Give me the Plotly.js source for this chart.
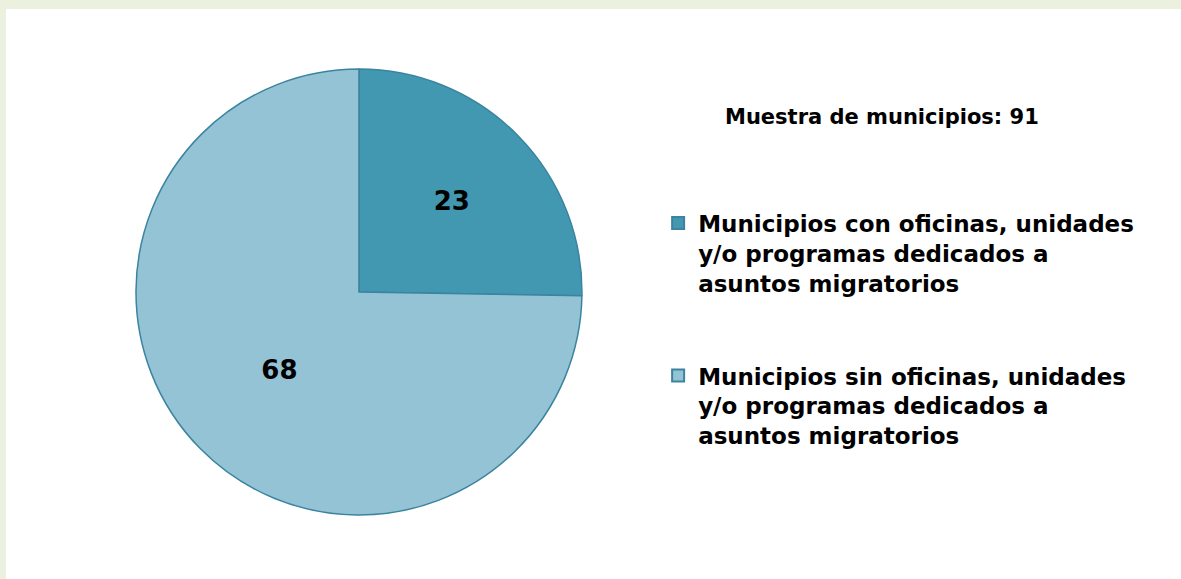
<!DOCTYPE html>
<html>
<head>
<meta charset="utf-8">
<script src="https://cdn.plot.ly/plotly-3.0.1.min.js"></script>
<style>
html,body{margin:0;padding:0;background:#EBF1DE;width:1181px;height:579px;overflow:hidden;}
#chart{position:absolute;left:6px;top:9px;width:1175px;height:570px;background:#fff;}
</style>
</head>
<body>
<div id="chart"></div>
<script>
const categories = [
  "Municipios con oficinas, unidades<br>y/o programas dedicados a<br>asuntos migratorios<br>\u00a0<br>\u00a0",
  "Municipios sin oficinas, unidades<br>y/o programas dedicados a<br>asuntos migratorios"
];
const values = [23, 68];
const sampleNote = "Muestra de municipios: 91";
const colors = ["#4398B1", "#94C3D5"];
const FONT = "DejaVu Sans, sans-serif";

const data = [{
  type: "pie",
  labels: categories,
  values: values,
  sort: false,
  direction: "clockwise",
  rotation: 0,
  marker: {colors: colors, line: {color: "#3A84A0", width: 1.5}},
  texttemplate: "%{value}",
  textposition: "inside",
  insidetextorientation: "horizontal",
  textfont: {family: FONT, size: 26, color: "#000", weight: "bold"},
  hoverinfo: "label+value",
  domain: {x: [0.1106, 0.4902], y: [0.1123, 0.8947]}
}];

const layout = {
  width: 1175, height: 570,
  margin: {l: 0, r: 0, t: 0, b: 0},
  paper_bgcolor: "#ffffff",
  plot_bgcolor: "#ffffff",
  showlegend: true,
  legend: {
    x: 0.555, y: 0.662, xanchor: "left", yanchor: "top",
    valign: "top",
    font: {family: FONT, size: 23, color: "#000", weight: "bold"},
    itemsizing: "constant"
  },
  annotations: [{
    text: "<b>" + sampleNote + "</b>",
    xref: "paper", yref: "paper",
    x: 0.7455, y: 0.81, xanchor: "center", yanchor: "middle",
    showarrow: false,
    font: {family: FONT, size: 21, color: "#000"}
  }]
};

Plotly.newPlot("chart", data, layout, {displayModeBar: false, staticPlot: true});
</script>
</body>
</html>
